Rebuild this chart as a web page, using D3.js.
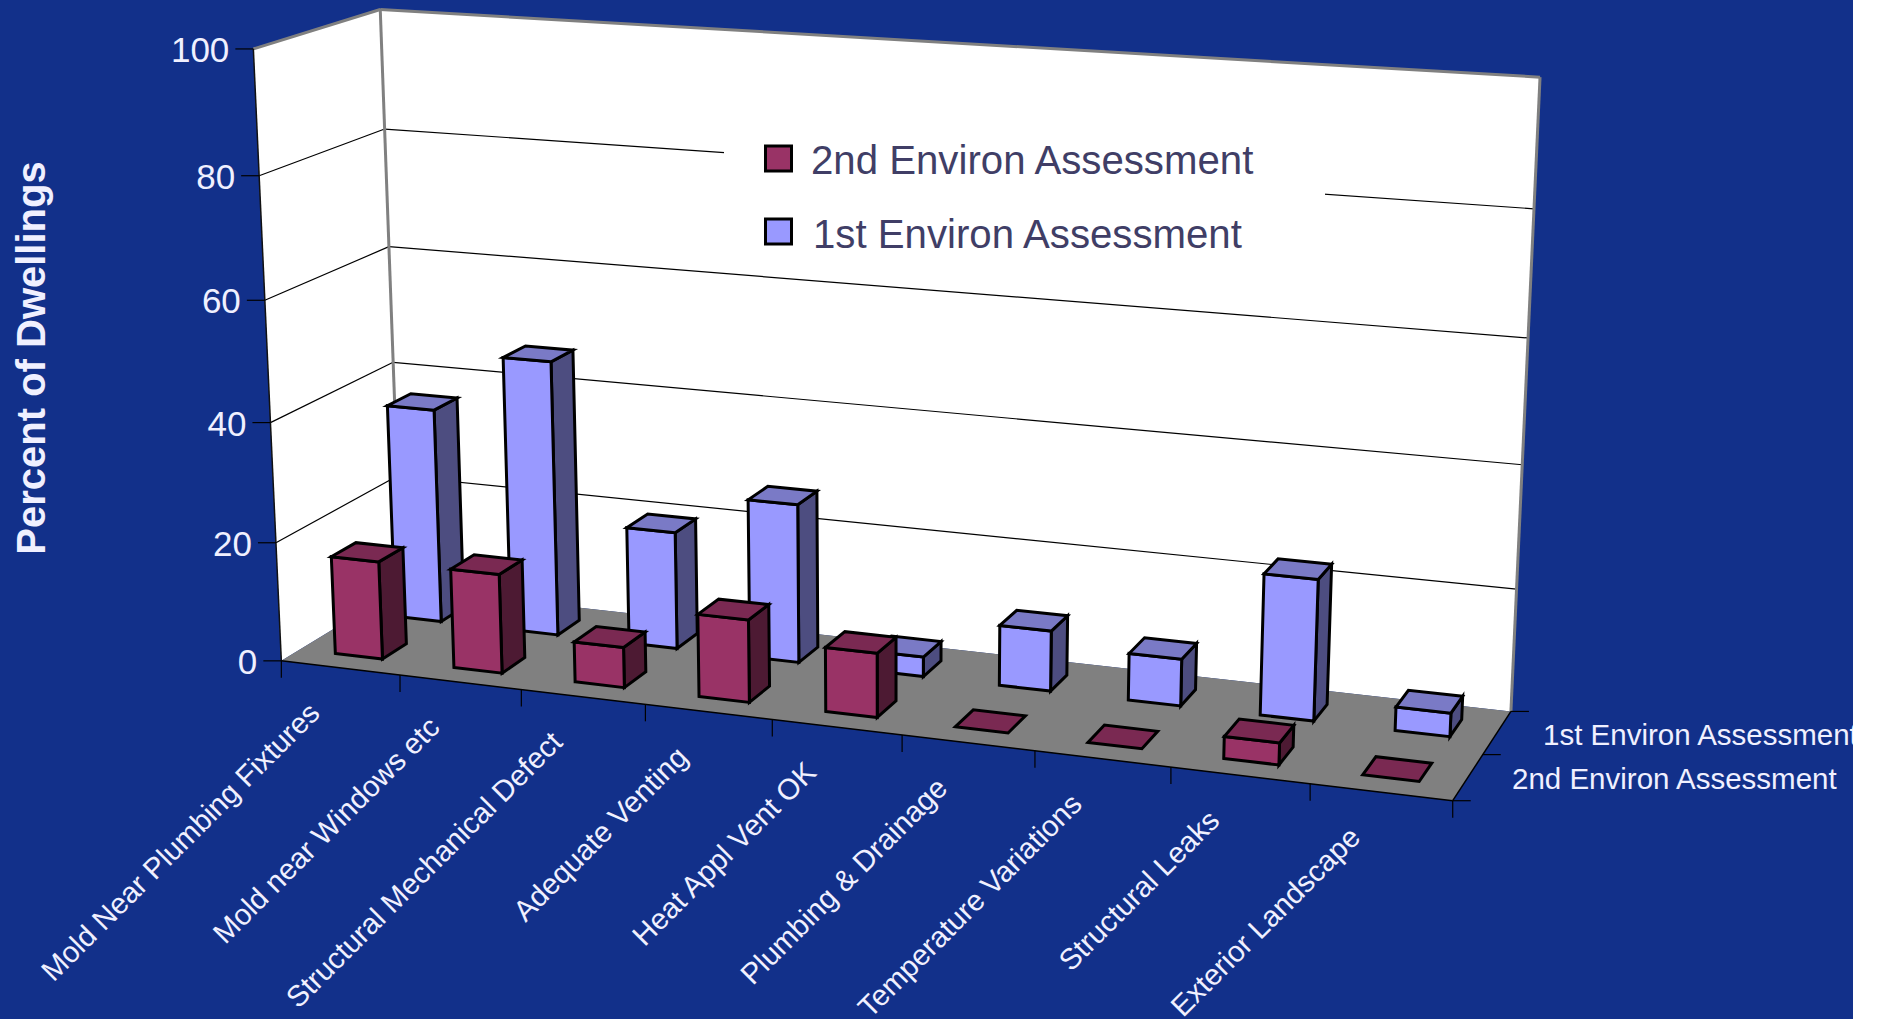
<!DOCTYPE html>
<html><head><meta charset="utf-8">
<style>html,body{margin:0;padding:0;background:#fff}svg{display:block}text{font-family:"Liberation Sans",Arial,sans-serif}</style>
<script src="https://cdn.jsdelivr.net/npm/d3@7"></script></head>
<body><svg id="c" width="1853" height="1019"></svg>
<script>
const categories=["Mold Near Plumbing Fixtures","Mold near Windows etc","Structural Mechanical Defect","Adequate Venting","Heat Appl Vent OK","Plumbing & Drainage","Temperature Variations","Structural Leaks","Exterior Landscape"];
const seriesNames=["2nd Environ Assessment","1st Environ Assessment"];
const second=[16.5,16.6,6.7,13.6,10.5,0,0,3.5,0];
const first=[36.6,46.6,19.8,26.6,3.3,10,7.7,23,3.8];
const yTicks=[0,20,40,60,80,100];

// calibration of the 3D box onto the page: [x,y,z, px,py]
const calib=[[0,0,0,281,661],[1,0,0,1453,800],[1,0,1,1511,712],[0,0,1,402,587],[0,1,0,254,49],[0,1,1,380,9],[1,1,1,1540,77],
[5/9,0,0,902,735],[0,.4,0,270,423],[0,.4,1,393,363],[1,.4,1,1522,465]];
function solveCam(pts){
  const A=[],b=[];const S=1000;
  pts.forEach(([x,y,z,u,v])=>{u/=S;v/=S;
    A.push([x,y,z,1,0,0,0,0,-u*x,-u*y,-u*z]);b.push(u);
    A.push([0,0,0,0,x,y,z,1,-v*x,-v*y,-v*z]);b.push(v);});
  const n=11,M=d3.range(n).map(i=>d3.range(n+1).map(j=>{let s=0;A.forEach((r,k)=>{s+=r[i]*(j<n?r[j]:b[k]);});return s;}));
  for(let c=0;c<n;c++){let p=c;for(let r=c+1;r<n;r++)if(Math.abs(M[r][c])>Math.abs(M[p][c]))p=r;[M[c],M[p]]=[M[p],M[c]];
    for(let r=0;r<n;r++)if(r!==c){const f=M[r][c]/M[c][c];for(let j=c;j<=n;j++)M[r][j]-=f*M[c][j];}}
  const s=M.map((r,i)=>r[n]/r[i]);
  return (x,y,z)=>{const w=s[8]*x+s[9]*y+s[10]*z+1;return [S*(s[0]*x+s[1]*y+s[2]*z+s[3])/w,S*(s[4]*x+s[5]*y+s[6]*z+s[7])/w];};
}
const P=solveCam(calib);
const xS=d3.scaleBand().domain(categories).range([0,1]).paddingInner(.6).paddingOuter(.3);
const zS=d3.scaleBand().domain(seriesNames).range([0,1]).paddingInner(.6).paddingOuter(.3);
const yS=d3.scaleLinear().domain([0,100]).range([0,1]);
const svg=d3.select("#c");
const line=d3.line();
const BG="#12308a",GREY="#808080";
svg.append("rect").attr("width",1853).attr("height",1019).attr("fill",BG);
const poly=(pts,fill,stroke,sw)=>svg.append("path").attr("d",line(pts)+"Z").attr("fill",fill).attr("stroke",stroke||"none").attr("stroke-width",sw||0).attr("stroke-linejoin","miter");
const seg=(a,b,c,w)=>svg.append("line").attr("x1",a[0]).attr("y1",a[1]).attr("x2",b[0]).attr("y2",b[1]).attr("stroke",c).attr("stroke-width",w);
// walls and floor
poly([P(0,0,0),P(0,0,1),P(0,1,1),P(0,1,0)],"#fff");
poly([P(0,0,1),P(1,0,1),P(1,1,1),P(0,1,1)],"#fff");
poly([P(0,0,0),P(1,0,0),P(1,0,1),P(0,0,1)],GREY);
yTicks.filter(t=>t>0&&t<100).forEach(t=>{const y=yS(t);seg(P(0,y,0),P(0,y,1),"#000",1.2);seg(P(0,y,1),P(1,y,1),"#000",1.2);});
seg(P(0,0,1),P(0,1,1),GREY,3);seg(P(1,0,1),P(1,1,1),GREY,3);seg(P(0,1,0),P(0,1,1),GREY,3);seg(P(0,1,1),P(1,1,1),GREY,3);
seg(P(0,0,0),P(0,1,0),"#111",1.5);
seg(P(0,0,0),P(1,0,0),"#000",1.5);seg(P(1,0,0),P(1,0,1),"#000",1.5);
// axis ticks
yTicks.forEach(t=>{const p=P(0,yS(t),0);seg([p[0]-18,p[1]],p,"#000",1.2);
  svg.append("text").attr("x",p[0]-24).attr("y",p[1]+13).attr("text-anchor","end").attr("font-size",35).attr("fill","#f0f0ff").text(t);});
d3.range(10).forEach(i=>{const p=P(i/9,0,0);seg(p,[p[0],p[1]+17],"#000",1.2);});
[0,.5,1].forEach(z=>{const p=P(1,0,z);seg(p,[p[0]+18,p[1]],"#000",1.2);});
categories.forEach(c=>{const p=P(xS(c)+xS.bandwidth()/2,0,0);
  svg.append("text").attr("transform",`translate(${p[0]-19},${p[1]+47}) rotate(-45)`).attr("text-anchor","end").attr("font-size",29.4).attr("fill","#f0f0ff").text(c);});
const slabels=[[seriesNames[1],1543,745],[seriesNames[0],1512,789]];
slabels.forEach(([t,x,y])=>svg.append("text").attr("x",x).attr("y",y).attr("font-size",29.5).attr("fill","#f0f0ff").text(t));
svg.append("text").attr("transform","translate(45,358) rotate(-90)").attr("text-anchor","middle").attr("font-size",40).attr("font-weight","bold").attr("fill","#f0f0ff").text("Percent of Dwellings");
// legend
svg.append("rect").attr("x",724).attr("y",125).attr("width",601).attr("height",135).attr("fill","#fff");
const COL={[seriesNames[0]]:["#993366","#7a2952","#4d1a33"],[seriesNames[1]]:["#9999ff","#7a7ac6","#4d4d80"]};
[[seriesNames[0],146,174],[seriesNames[1],219,248]].forEach(([s,y,b])=>{
  svg.append("rect").attr("x",765.5).attr("y",y).attr("width",26).attr("height",25).attr("fill",COL[s][0]).attr("stroke","#000").attr("stroke-width",3);
  svg.append("text").attr("x",s===seriesNames[0]?811:813).attr("y",b).attr("font-size",40.2).attr("fill","#403e66").text(s);});
// bars, back row first
const rows=[[seriesNames[1],first],[seriesNames[0],second]];
rows.forEach(([s,vals])=>{const z0=zS(s),z1=z0+zS.bandwidth();const col=COL[s];
  vals.forEach((v,i)=>{const x0=xS(categories[i]),x1=x0+xS.bandwidth(),h=yS(v);const sw=3;
    if(v>0){
      poly([P(x1,0,z0),P(x1,0,z1),P(x1,h,z1),P(x1,h,z0)],col[2],"#000",sw);
      poly([P(x0,0,z0),P(x1,0,z0),P(x1,h,z0),P(x0,h,z0)],col[0],"#000",sw);
    }
    poly([P(x0,h,z0),P(x1,h,z0),P(x1,h,z1),P(x0,h,z1)],col[1],"#000",sw);
  });
});
</script></body></html>
